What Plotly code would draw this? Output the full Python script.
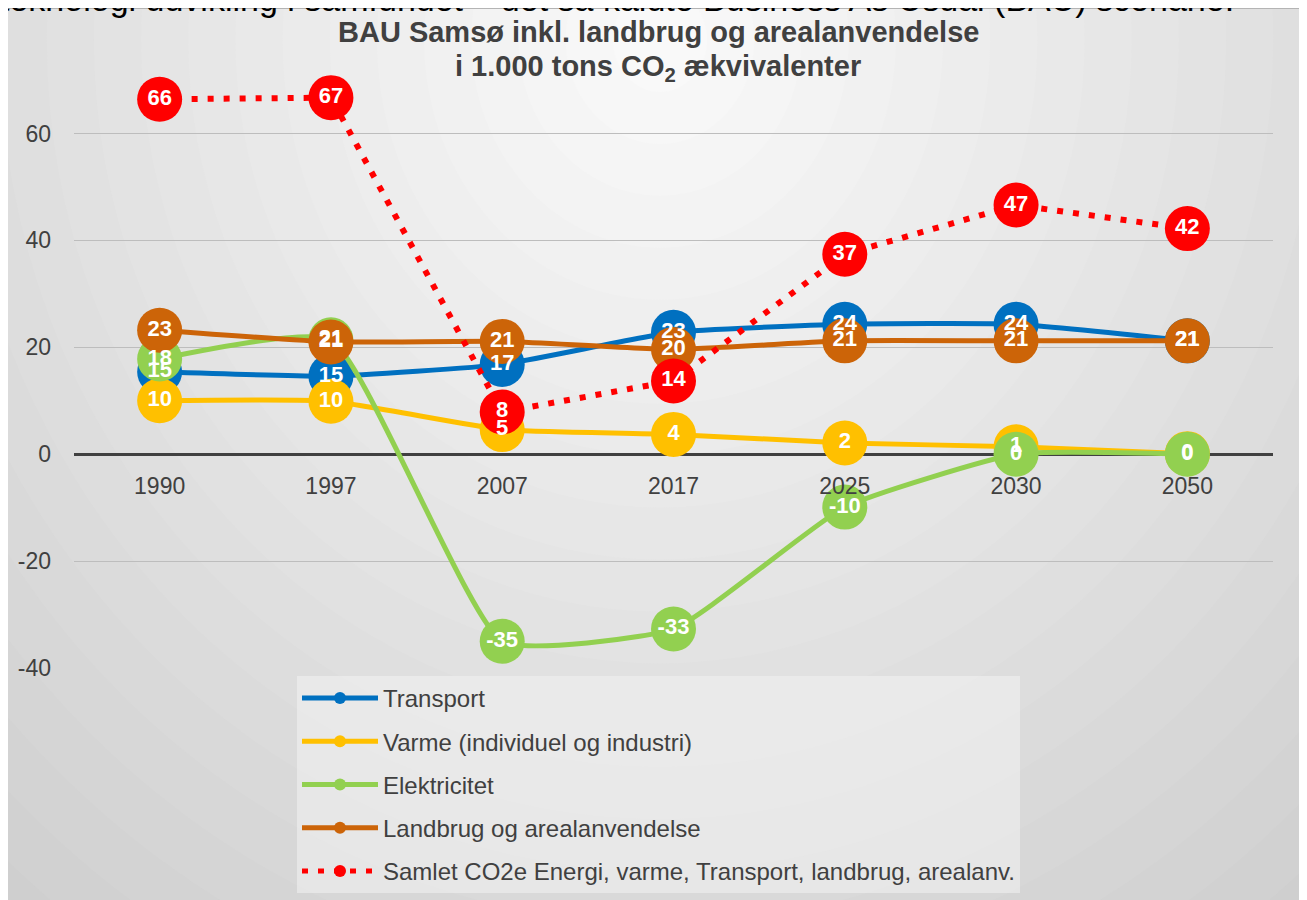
import plotly.graph_objects as go

# ---------------- data ----------------
years = ["1990", "1997", "2007", "2017", "2025", "2030", "2050"]
transport = [15.4, 14.6, 16.8, 22.8, 24.3, 24.3, 21.2]
varme = [10.0, 9.9, 4.6, 3.7, 2.1, 1.4, 0.1]
elektricitet = [17.8, 21.4, -35.0, -32.7, -9.9, 0.0, 0.0]
landbrug = [23.2, 21.0, 21.1, 19.6, 21.2, 21.2, 21.2]
samlet = [66.4, 66.7, 7.9, 13.7, 37.4, 46.6, 42.2]

names = ["Transport", "Varme (individuel og industri)", "Elektricitet",
         "Landbrug og arealanvendelse",
         "Samlet CO2e Energi, varme, Transport, landbrug, arealanv."]
colors = ["#0070C0", "#FFC000", "#92D050", "#CC6408", "#FF0000"]
series = [transport, varme, elektricitet, landbrug, samlet]

y_ticks = [-40, -20, 0, 20, 40, 60]
y_ticktext = [str(v) for v in y_ticks]

# ---------------- layout geometry (screen px; page body adds 8px) ----------------
OFF = 8
W, H = 1307 - OFF, 900 - OFF
SL, SR, ST, SB = 74, 1273, 80, 668          # plot area in screen pixels
Y0, Y1 = -40, 70


def fx(px):
    return (px - SL) / (SR - SL)


def fy(py):
    return (SB - py) / (SB - ST)


FONT = "Liberation Sans, Arial"
fig = go.Figure()

# lines + markers
for i, (name, col, vals) in enumerate(zip(names, colors, series)):
    if i < 4:
        line = dict(color=col, width=5, shape="spline", smoothing=0.45)
    else:
        line = dict(color=col, width=6, dash="6px,10px")
    fig.add_trace(go.Scatter(
        x=years, y=vals, name=name, mode="lines+markers",
        line=line,
        marker=dict(size=45, color=col, line=dict(width=0)),
        legendgroup=f"g{i}", cliponaxis=False,
    ))

# data labels on top of everything
for vals in series:
    fig.add_trace(go.Scatter(
        x=years, y=vals, mode="text",
        text=[f"{v:.0f}" for v in vals],
        textposition="middle center",
        textfont=dict(family=FONT, size=22, color="white", weight="bold"),
        showlegend=False, hoverinfo="skip", cliponaxis=False,
    ))

# ---------------- background (radial gradient approximation) ----------------
shapes = []
cx, cy = 660, 40
kx, ky = 0.0424, 0.0385
levels = list(range(52, 0, -2))
for v in levels:
    rx, ry = v / kx, v / ky
    g = int(round(250 - v + 1))
    shapes.append(dict(
        type="circle", xref="paper", yref="paper", layer="below",
        x0=fx(cx - rx), x1=fx(cx + rx), y0=fy(cy + ry), y1=fy(cy - ry),
        fillcolor=f"rgb({g},{g},{g})", line=dict(width=0),
    ))
# white page strip at top and left, frame line
shapes.append(dict(type="rect", xref="paper", yref="paper", layer="above",
                   x0=fx(-60), x1=fx(1400), y0=fy(8), y1=fy(-200),
                   fillcolor="white", line=dict(width=0)))
shapes.append(dict(type="rect", xref="paper", yref="paper", layer="above",
                   x0=fx(-200), x1=fx(6), y0=fy(1100), y1=fy(-200),
                   fillcolor="white", line=dict(width=0)))
shapes.append(dict(type="line", xref="paper", yref="paper", layer="above",
                   x0=fx(6), x1=fx(1400), y0=fy(8.5), y1=fy(8.5),
                   line=dict(color="#b4b4b4", width=1)))
shapes.append(dict(type="line", xref="paper", yref="paper", layer="above",
                   x0=fx(6.5), x1=fx(6.5), y0=fy(8), y1=fy(1100),
                   line=dict(color="#b4b4b4", width=1)))

annotations = [
    dict(text="teknologi udvikling i samfundet – det så kaldte Business As Usual (BAU) scenarie.",
         xref="paper", yref="paper", x=fx(-2), y=fy(-1), xanchor="left",
         yanchor="middle", showarrow=False,
         font=dict(family=FONT, size=34, color="#000000")),
    dict(text="<b>BAU Samsø inkl. landbrug og arealanvendelse</b>",
         xref="paper", yref="paper", x=fx(658), y=fy(32), xanchor="center",
         yanchor="middle", showarrow=False,
         font=dict(family=FONT, size=29, color="#404040")),
    dict(text="<b>i 1.000 tons CO<sub>2</sub> ækvivalenter</b>",
         xref="paper", yref="paper", x=fx(658), y=fy(68), xanchor="center",
         yanchor="middle", showarrow=False,
         font=dict(family=FONT, size=29, color="#404040")),
]

fig.update_layout(
    width=W, height=H,
    margin=dict(l=SL - OFF, r=W - (SR - OFF), t=ST - OFF, b=H - (SB - OFF),
                autoexpand=False),
    paper_bgcolor="rgb(200,200,200)", plot_bgcolor="rgba(0,0,0,0)",
    font=dict(family=FONT, color="#404040"),
    shapes=shapes, annotations=annotations,
    showlegend=True,
    legend=dict(
        x=fx(297), y=fy(676), xanchor="left", yanchor="top",
        bgcolor="rgba(242,242,242,0.55)", borderwidth=0,
        font=dict(family=FONT, size=24, color="#404040"),
        tracegroupgap=9, itemsizing="constant", itemwidth=76,
    ),
    xaxis=dict(
        type="category", categoryorder="array", categoryarray=years,
        range=[-0.5, 6.5], showgrid=False, showline=False, zeroline=False,
        anchor="free", position=(0 - Y0) / (Y1 - Y0),
        tickfont=dict(family=FONT, size=23, color="#404040"), ticks="",
        ticklabelstandoff=16,
    ),
    yaxis=dict(
        range=[Y0, Y1], tickvals=y_ticks, ticktext=y_ticktext, showgrid=True,
        gridcolor="#bdbdbd", gridwidth=1,
        zeroline=True, zerolinecolor="#404040", zerolinewidth=3,
        tickfont=dict(family=FONT, size=23, color="#404040"), ticks="",
        ticklabelstandoff=22, showline=False,
    ),
)

fig.write_html("out.html")
